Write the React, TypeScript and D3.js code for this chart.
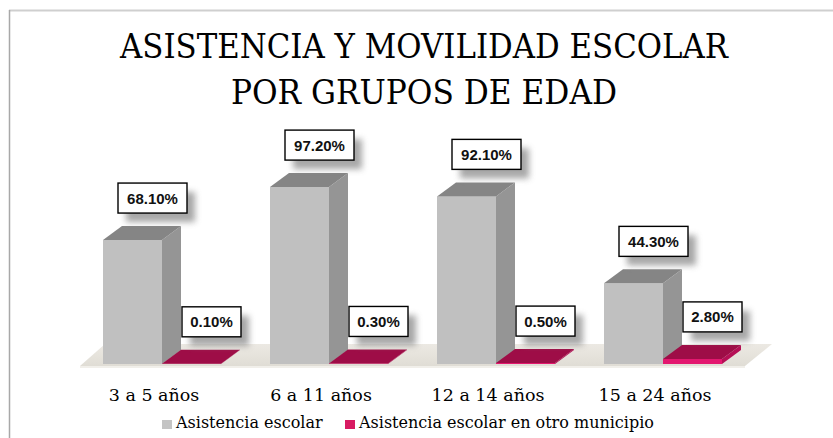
import React from "react";
import * as d3 from "d3";

const categories = ["3 a 5 años", "6 a 11 años", "12 a 14 años", "15 a 24 años"];
const seriesNames = ["Asistencia escolar", "Asistencia escolar en otro municipio"];
const asistencia = [68.1, 97.2, 92.1, 44.3];
const otroMunicipio = [0.1, 0.3, 0.5, 2.8];
const titleLines = ["ASISTENCIA Y MOVILIDAD ESCOLAR", "POR GRUPOS DE EDAD"];

const W = 833;
const H = 438;
const floorY = 364;
const depthX = 19;
const depthY = 14;
const barW = 59;
const wideSerif = "'DejaVu Serif', serif";

const x = d3.scaleBand<string>().domain(categories).range([70, 738]);
const y = d3.scaleLinear().domain([0, 100]).range([floorY, floorY - 182]);

const series = [
  { name: seriesNames[0], values: asistencia, front: "#c0c0c0", side: "#959595", top: "#858585", offset: 33, legend: "#c4c4c4" },
  { name: seriesNames[1], values: otroMunicipio, front: "#e3176f", side: "#b50f55", top: "#9e0d47", offset: 33 + barW, legend: "#d81b62" },
];

const pts = (p: [number, number][]) => p.map((d) => d.join(",")).join(" ");

function Bar({ x0, v, s }: { x0: number; v: number; s: any }) {
  const x1 = x0 + barW;
  const yt = y(v);
  return (
    <g>
      <polygon points={pts([[x0, floorY], [x1, floorY], [x1, yt], [x0, yt]])} fill={s.front} />
      <polygon points={pts([[x1, floorY], [x1 + depthX, floorY - depthY], [x1 + depthX, yt - depthY], [x1, yt]])} fill={s.side} />
      <polygon points={pts([[x0, yt], [x1, yt], [x1 + depthX, yt - depthY], [x0 + depthX, yt - depthY]])} fill={s.top} />
    </g>
  );
}

function Label({ cx, yb, text }: { cx: number; yb: number; text: string }) {
  const w = text.length * 10 + 9;
  const h = 30;
  const x0 = cx - w / 2;
  const y0 = yb - h;
  return (
    <g>
      <rect x={x0 + 8} y={y0 + 9} width={w} height={h} fill="#8a8a8a" opacity={0.75} filter="url(#blur)" />
      <rect x={x0} y={y0} width={w} height={h} fill="#fff" stroke="#000" strokeWidth={1.4} />
      <text x={cx} y={y0 + h / 2 + 5.5} textAnchor="middle" fontFamily="'Liberation Sans', Arial, sans-serif" fontWeight="bold" fontSize={15} fill="#111">
        {text}
      </text>
    </g>
  );
}

export default function App() {
  const floor: [number, number][] = [[80, floorY + 2], [745, floorY + 2], [772, floorY - 20], [105, floorY - 20]];
  return (
    <div style={{ position: "absolute", left: 0, top: 0 }}>
      <svg width={W} height={H} style={{ display: "block", background: "#fff" }}>
        <defs>
          <filter id="blur" x="-30%" y="-50%" width="160%" height="200%">
            <feGaussianBlur stdDeviation="3" />
          </filter>
          <linearGradient id="floorGrad" x1="0" y1="0" x2="0" y2="1">
            <stop offset="0" stopColor="#ece9e3" />
            <stop offset="1" stopColor="#e0ddd5" />
          </linearGradient>
        </defs>
        <line x1={9} y1={10.5} x2={W} y2={10.5} stroke="#cfcfcf" strokeWidth={2} />
        <line x1={9.5} y1={10} x2={9.5} y2={H} stroke="#a8a8a8" strokeWidth={1.5} />

        {titleLines.map((t, i) => (
          <text key={t} x={424} y={58 + i * 46} textAnchor="middle" fontFamily={wideSerif} fontSize={34} fill="#000" textLength={i === 0 ? 608 : 386} lengthAdjust="spacingAndGlyphs">
            {t}
          </text>
        ))}

        <polygon points={pts(floor)} fill="url(#floorGrad)" />
        <rect x={80} y={floorY + 2} width={665} height={2} fill="#f1efea" />

        {categories.map((c, i) => (
          <g key={c}>
            {series.map((s) => (
              <Bar key={s.name} x0={(x(c) as number) + s.offset} v={s.values[i]} s={s} />
            ))}
          </g>
        ))}

        {categories.map((c, i) =>
          series.map((s) => (
            <Label key={c + s.name} cx={(x(c) as number) + s.offset + barW / 2 + 20} yb={y(s.values[i]) - 27} text={s.values[i].toFixed(2) + "%"} />
          ))
        )}

        {categories.map((c) => (
          <text key={c} x={(x(c) as number) + 84} y={401} textAnchor="middle" fontFamily={wideSerif} fontSize={17.5} fill="#000">
            {c}
          </text>
        ))}

        {series.map((s, i) => {
          const lx = i === 0 ? 162 : 345;
          return (
            <g key={s.name}>
              <rect x={lx} y={420} width={10} height={9} fill={s.legend} />
              <text x={lx + 14} y={428} fontFamily={wideSerif} fontSize={16} fill="#000">
                {s.name}
              </text>
            </g>
          );
        })}
      </svg>
    </div>
  );
}
